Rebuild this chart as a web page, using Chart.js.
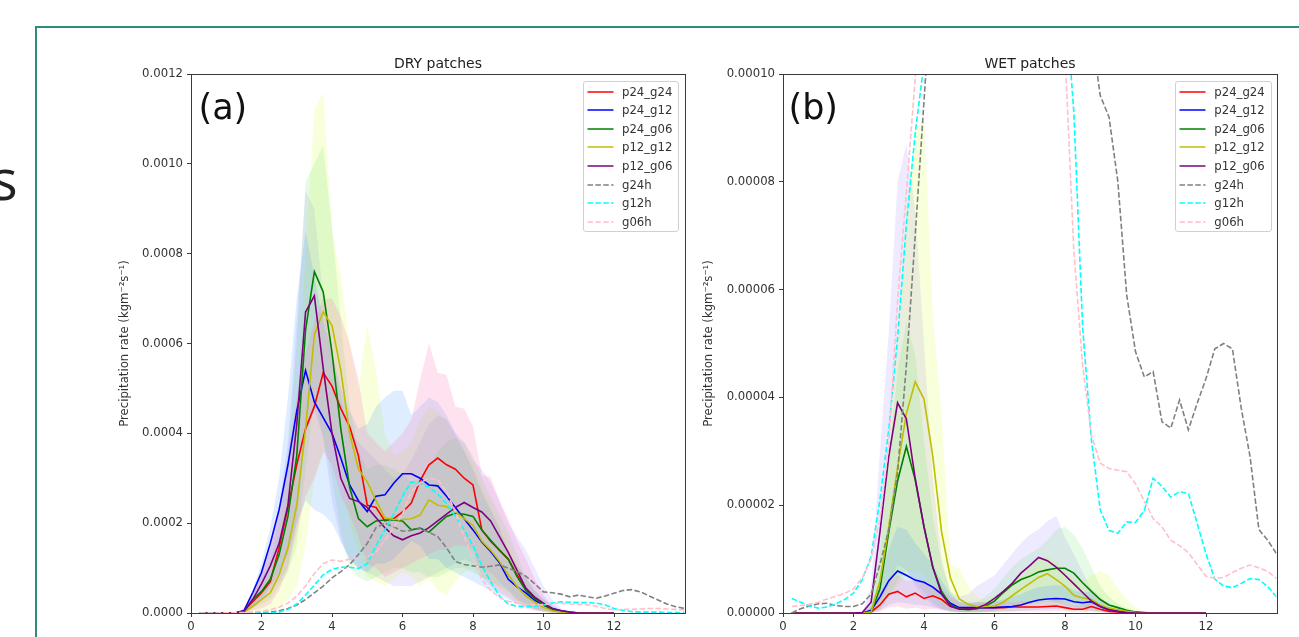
<!DOCTYPE html>
<html><head><meta charset="utf-8">
<script src="https://cdn.jsdelivr.net/npm/chart.js"></script>
<style>
html,body{margin:0;padding:0;background:#fff;}
body{width:1299px;height:637px;overflow:hidden;position:relative;font-family:'DejaVu Sans',sans-serif;}
#frame{position:absolute;left:35px;top:26px;width:1300px;height:700px;border-left:2px solid #2e8c78;border-top:2px solid #2e8c78;}
#bigs{position:absolute;left:-9px;top:150px;font-family:'Open Sans',sans-serif;font-size:56px;line-height:56px;color:#222;}
canvas{position:absolute;}
.title{position:absolute;top:56px;font-size:14px;line-height:14px;color:#222;transform:translateX(-50%);white-space:nowrap;}
.plab{position:absolute;top:90px;font-size:35px;line-height:35px;color:#111;white-space:nowrap;}
.legend{position:absolute;box-sizing:border-box;border:1px solid #d0d0d0;border-radius:3px;background:rgba(255,255,255,0.8);}
.row{position:absolute;left:0;width:100%;height:14px;font-size:11.7px;line-height:14px;color:#333;white-space:nowrap;}
</style>
</head><body>
<div id="frame"></div>
<div id="bigs">s</div>
<canvas id="ca" width="600" height="597" style="left:100px;top:40px;width:600px;height:597px"></canvas>
<canvas id="cb" width="600" height="597" style="left:692px;top:40px;width:600px;height:597px"></canvas>
<div class="title" style="left:438px">DRY patches</div>
<div class="title" style="left:1030px">WET patches</div>
<div class="plab" style="left:198.5px">(a)</div>
<div class="plab" style="left:788.5px">(b)</div>
<script>
// ---------- data ----------
const XS = [0.25,0.5,0.75,1,1.25,1.5,1.75,2,2.25,2.5,2.75,3,3.25,3.5,3.75,4,4.25,4.5,4.75,5,5.25,5.5,5.75,6,6.25,6.5,6.75,7,7.25,7.5,7.75,8,8.25,8.5,8.75,9,9.25,9.5,9.75,10,10.25,10.5,10.75,11,11.25,11.5,11.75,12,12.25,12.5,12.75,13,13.25,13.5,13.75,14];
const SERIES = ['p24_g24','p24_g12','p24_g06','p12_g12','p12_g06','g24h','g12h','g06h'];
const COLORS = ['#ff0000','#0000ff','#008000','#bfbf00','#800080','#808080','#00ffff','#ffc0cb'];
const DASHED = [false,false,false,false,false,true,true,true];
const BAND_COLORS = ['rgba(255,110,180,0.2)','rgba(60,150,255,0.17)','rgba(60,220,60,0.13)','rgba(215,255,40,0.17)','rgba(120,90,255,0.13)'];
const X_TICKS = [0,2,4,6,8,10,12];
const DRY_Y_TICKS = [0,0.0002,0.0004,0.0006,0.0008,0.0010,0.0012];
const WET_Y_TICKS = [0,0.00002,0.00004,0.00006,0.00008,0.00010];
const Y_LABEL = 'Precipitation rate (kgm\u207B\u00B2s\u207B\u00B9)';
const DRY_UNIT = 1e-4; // DRY arrays are in units of 1e-4 kg m-2 s-1
const WET_UNIT = 1e-5; // WET arrays are in units of 1e-5 kg m-2 s-1

// DRY patches, means
const dry_p24_g24 = [0,0,0,0,0, 0.05,0.25,0.45,0.7,1.45,2.35,3.3,4.1,4.6,5.35, 5.05,4.55,4.15,3.5,2.4,2.35,2.05,2.1,2.25,2.45, 2.95,3.3,3.45,3.3,3.2,3.0,2.85,1.85,1.6,1.4, 1.2,0.85,0.55,0.35,0.18,0.08,0.03,0.01,0,0, 0,0,0];
const dry_p24_g12 = [0,0,0,0,0, 0.05,0.45,0.9,1.55,2.3,3.3,4.5,5.4,4.7,4.35, 4.0,3.45,2.85,2.5,2.26,2.6,2.63,2.89,3.1,3.1, 3.0,2.85,2.83,2.6,2.35,2.1,1.85,1.58,1.37,1.12, 0.75,0.58,0.45,0.28,0.18,0.1,0.05,0.02,0,0, 0,0,0];
const dry_p24_g06 = [0,0,0,0,0, 0.03,0.3,0.48,0.75,1.3,2.15,3.5,6.3,7.6,7.15, 5.8,4.1,2.8,2.1,1.92,2.05,2.07,2.07,2.05,1.85, 1.89,1.8,1.98,2.15,2.22,2.2,2.15,1.85,1.62,1.4, 1.2,0.81,0.5,0.32,0.18,0.08,0.03,0.01,0,0, 0,0,0];
const dry_p12_g12 = [0,0,0,0,0, 0.02,0.15,0.3,0.45,0.85,1.45,2.4,4.1,6.2,6.7, 6.4,5.4,4.0,3.2,2.92,2.5,2.12,2.08,2.08,2.1, 2.18,2.52,2.4,2.37,2.25,2.1,1.95,1.6,1.4,1.15, 0.85,0.59,0.38,0.24,0.12,0.05,0.02,0,0,0, 0,0,0];
const dry_p12_g06 = [0,0,0,0,0, 0.03,0.3,0.65,1.05,1.55,2.4,4.2,6.7,7.06,5.45, 4.0,3.0,2.55,2.48,2.35,2.12,1.9,1.72,1.63,1.72, 1.78,1.9,2.05,2.2,2.35,2.46,2.35,2.25,2.05,1.7, 1.35,0.95,0.55,0.35,0.22,0.1,0.05,0.02,0,0, 0,0,0];
const dry_g24h = [0,0,0,0,0.005, 0.005,0.01,0.01,0.02,0.05,0.1,0.18,0.3,0.45,0.6, 0.78,0.92,1.08,1.3,1.55,1.9,2.0,1.92,1.82,1.84, 1.88,1.8,1.7,1.45,1.15,1.08,1.05,1.02,1.04,1.07, 1.0,0.92,0.82,0.65,0.47,0.45,0.42,0.36,0.4,0.36, 0.33,0.38,0.44, 0.5,0.52,0.47,0.38,0.29,0.2,0.14,0.1];
const dry_g12h = [0,0,0,0,0, 0,0,0,0,0.02,0.08,0.2,0.4,0.62,0.85, 0.97,1.02,1.02,0.99,1.1,1.5,1.85,2.2,2.6,2.92, 2.89,2.8,2.65,2.44,2.15,1.85,1.5,1.05,0.7,0.38, 0.2,0.15,0.14,0.15,0.18,0.22,0.25,0.24,0.23,0.23, 0.22,0.18,0.1, 0.06,0.03,0.02,0.02,0.02,0.01,0.01,0.01];
const dry_g06h = [0,0,0,0.005,0.01, 0.01,0.02,0.04,0.07,0.13,0.22,0.38,0.6,0.88,1.1, 1.18,1.15,1.2,1.23,1.25,1.35,1.62,1.9,2.2,2.7, 2.9,3.0,2.97,2.7,2.25,1.7,1.2,0.75,0.5,0.35, 0.26,0.22,0.2,0.18,0.19,0.21,0.22,0.2,0.19,0.18, 0.15,0.1,0.07, 0.08,0.08,0.09,0.1,0.1,0.09,0.08,0.07];
// DRY patches, spread bands (upper / lower)
const dry_p24_g24_hi = [0,0,0,0,0, 0.1,0.5,0.9,1.4,2.3,3.5,4.8,5.8,6.5,7.0, 7.0,6.6,6.0,5.2,4.0,3.8,3.6,3.8,4.0,4.3, 5.2,6.0,5.35,5.3,4.6,4.55,4.15,3.07,3.03,2.5, 2.1,1.6,1.2,0.75,0.4,0.15,0.05,0.02,0,0, 0,0,0];
const dry_p24_g24_lo = [0,0,0,0,0, 0,0.05,0.1,0.2,0.5,1.0,1.8,2.6,3.0,3.6, 3.3,2.6,2.2,1.7,1.1,1.0,0.8,0.9,1.0,1.1, 1.2,1.3,1.4,1.4,1.5,1.5,1.4,0.8,0.6,0.45, 0.35,0.2,0.1,0.05,0.02,0,0,0,0,0, 0,0,0];
const dry_p24_g12_hi = [0,0,0,0,0, 0.1,0.5,1.1,1.9,3.0,4.8,7.0,8.5,7.5,6.5, 5.8,5.0,4.5,4.1,4.2,4.6,4.8,4.95,4.95,4.4, 4.6,4.8,4.7,4.4,4.0,3.6,3.2,2.7,2.3,1.9, 1.35,1.05,0.8,0.5,0.32,0.18,0.08,0.03,0,0, 0,0,0];
const dry_p24_g12_lo = [0,0,0,0,0, 0,0.15,0.3,0.6,0.9,1.3,2.0,2.5,2.3,2.2, 2.0,1.6,1.2,1.0,0.9,1.1,1.1,1.2,1.4,1.6, 1.5,1.2,1.2,1.0,0.9,0.8,0.7,0.6,0.5,0.4, 0.3,0.2,0.15,0.08,0.04,0.02,0,0,0,0, 0,0,0];
const dry_p24_g06_hi = [0,0,0,0,0, 0.05,0.4,0.8,1.2,2.0,3.5,6.0,9.6,10.0,10.4, 8.6,6.5,4.6,3.6,3.2,3.3,3.3,3.2,3.1,2.9, 3.0,3.2,3.6,3.8,3.9,3.8,3.5,3.0,2.6,2.2, 1.8,1.3,0.8,0.5,0.3,0.15,0.05,0,0,0, 0,0,0];
const dry_p24_g06_lo = [0,0,0,0,0, 0,0.1,0.2,0.3,0.6,0.9,1.5,3.2,4.8,3.9, 3.0,1.8,1.0,0.8,0.7,0.8,0.9,1.0,1.0,0.9, 0.9,0.8,0.8,0.9,1.0,1.0,0.9,0.8,0.7,0.6, 0.5,0.3,0.2,0.1,0.05,0,0,0,0,0, 0,0,0];
const dry_p12_g12_hi = [0,0,0,0,0, 0.05,0.3,0.6,0.9,1.6,2.8,4.5,8.0,11.2,11.6, 8.5,7.5,6.0,5.0,6.4,5.4,4.0,3.5,3.6,3.8, 4.3,4.6,4.5,4.3,3.9,3.6,3.3,2.8,2.4,2.0, 1.5,1.1,0.75,0.45,0.25,0.1,0.04,0,0,0, 0,0,0];
const dry_p12_g12_lo = [0,0,0,0,0, 0,0,0.02,0.05,0.1,0.3,0.6,1.5,3.0,3.5, 3.9,3.2,2.0,1.4,0.8,0.7,0.6,0.75,0.9,0.8, 0.6,0.75,0.5,0.4,0.7,0.9,1.0,0.8,0.7,0.55, 0.4,0.25,0.15,0.08,0.03,0,0,0,0,0, 0,0,0];
const dry_p12_g06_hi = [0,0,0,0,0, 0.05,0.5,1.0,1.6,2.4,3.8,6.5,9.4,9.0,7.0, 5.8,4.8,4.0,3.8,3.6,3.4,3.2,3.0,3.1,3.4, 3.8,4.2,4.4,4.3,4.0,3.8,3.4,3.2,2.9,2.5, 2.0,1.7,1.4,1.0,0.6,0.3,0.1,0.03,0,0, 0,0,0];
const dry_p12_g06_lo = [0,0,0,0,0, 0,0.1,0.3,0.5,0.7,1.0,2.0,4.0,4.5,3.9, 2.5,1.6,1.2,1.0,0.9,0.8,0.7,0.6,0.6,0.6, 0.7,0.8,0.9,1.0,1.1,1.2,1.1,1.0,0.9,0.7, 0.5,0.3,0.15,0.08,0.04,0,0,0,0,0, 0,0,0];

// WET patches, means
const wet_p24_g24 = [0,0,0,0,0, 0,0,0,0,0.02,0.15,0.35,0.4,0.3,0.37, 0.27,0.32,0.25,0.12,0.08,0.08,0.1,0.1,0.1,0.1, 0.11,0.11,0.11,0.11,0.12,0.13,0.1,0.07,0.07,0.12, 0.07,0.03,0.02,0.01,0.005,0,0,0,0,0, 0,0,0];
const wet_p24_g12 = [0,0,0,0,0, 0,0,0,0,0.05,0.3,0.6,0.78,0.7,0.61, 0.57,0.48,0.35,0.18,0.1,0.1,0.1,0.1,0.1,0.11, 0.12,0.15,0.2,0.24,0.26,0.27,0.26,0.21,0.19,0.21, 0.12,0.06,0.03,0.01,0,0,0,0,0,0, 0,0,0];
const wet_p24_g06 = [0,0,0,0,0, 0,0,0,0,0.02,0.45,1.5,2.45,3.09,2.47, 1.6,0.85,0.4,0.15,0.08,0.06,0.08,0.13,0.22,0.38, 0.52,0.62,0.68,0.76,0.8,0.83,0.83,0.74,0.56,0.4, 0.25,0.15,0.1,0.05,0.02,0.01,0,0,0,0, 0,0,0];
const wet_p12_g12 = [0,0,0,0,0, 0,0,0,0,0.02,0.6,1.6,2.7,3.7,4.29, 3.97,2.9,1.5,0.65,0.26,0.16,0.12,0.12,0.13,0.2, 0.32,0.44,0.55,0.66,0.73,0.62,0.5,0.33,0.28,0.25, 0.15,0.09,0.06,0.03,0.01,0,0,0,0,0, 0,0,0];
const wet_p12_g06 = [0,0,0,0,0, 0,0,0,0.01,0.2,1.5,2.9,3.9,3.6,2.5, 1.6,0.85,0.35,0.13,0.07,0.07,0.09,0.16,0.27,0.4, 0.55,0.74,0.88,1.03,0.97,0.85,0.7,0.54,0.38,0.22, 0.12,0.06,0.03,0.01,0,0,0,0,0,0, 0,0,0];
const wet_g24h = [0,0.08,0.13,0.17,0.18, 0.14,0.12,0.12,0.17,0.35,0.9,1.55,2.6,4.6,7.0, 9.5,12,15,18,21,23,24,24,23,22, 21,20,19,18,17,16,15,14,12.5,10.8, 9.6,9.2,8.0,5.9,4.85,4.38,4.48,3.55,3.43,3.95, 3.4,3.89,4.35, 4.9,5.0,4.9,3.8,2.9,1.55,1.35,1.1];
const wet_g12h = [0.27,0.2,0.13,0.09,0.11, 0.17,0.25,0.37,0.62,1.05,2.1,3.4,5.1,7.2,8.9, 10.2,13,16,19,22,24,25,25,24,23, 22,21,20,19,17,14,11.5,9.3,5.3,3.2, 1.91,1.53,1.48,1.69,1.68,1.9,2.5,2.35,2.15,2.25, 2.22,1.66,1.1, 0.63,0.5,0.47,0.55,0.64,0.62,0.49,0.3];
const wet_g06h = [0.12,0.14,0.16,0.2,0.26, 0.31,0.36,0.45,0.65,1.0,1.75,3.1,5.8,7.8,9.9, 12,15,18,21,23,24,24,23,22,21, 20,19,18,17,15,12,10.4,6.73,4.6,3.3, 2.78,2.68,2.65,2.62,2.4,2.08,1.75,1.6,1.35,1.25, 1.12,0.9,0.68, 0.64,0.66,0.75,0.83,0.89,0.84,0.77,0.64];
// WET patches, spread bands (upper / lower)
const wet_p24_g24_hi = [0,0,0,0,0, 0,0,0,0,0.1,0.4,0.6,0.7,0.6,0.6, 0.55,0.5,0.45,0.3,0.2,0.18,0.2,0.2,0.2,0.2, 0.2,0.22,0.22,0.22,0.23,0.25,0.2,0.15,0.15,0.2, 0.12,0.06,0.04,0.02,0.01,0,0,0,0,0, 0,0,0];
const wet_p24_g24_lo = [0,0,0,0,0, 0,0,0,0,0,0.02,0.1,0.12,0.08,0.1, 0.06,0.08,0.06,0.03,0.02,0.02,0.03,0.03,0.03,0.03, 0.03,0.03,0.03,0.03,0.03,0.04,0.03,0.02,0.02,0.03, 0.02,0,0,0,0,0,0,0,0,0, 0,0,0];
const wet_p24_g12_hi = [0,0,0,0,0, 0,0,0,0,0.15,0.6,1.2,1.6,1.55,1.3, 1.1,0.9,0.6,0.35,0.22,0.2,0.2,0.2,0.22,0.25, 0.3,0.35,0.42,0.48,0.5,0.52,0.5,0.42,0.38,0.4, 0.25,0.12,0.06,0.02,0,0,0,0,0,0, 0,0,0];
const wet_p24_g12_lo = [0,0,0,0,0, 0,0,0,0,0,0.05,0.15,0.2,0.18,0.15, 0.14,0.1,0.08,0.04,0.02,0.02,0.02,0.02,0.02,0.03, 0.03,0.04,0.05,0.06,0.07,0.07,0.07,0.05,0.05,0.05, 0.03,0.01,0,0,0,0,0,0,0,0, 0,0,0];
const wet_p24_g06_hi = [0,0,0,0,0, 0,0,0,0,0.3,1.2,2.8,4.5,5.4,4.8, 3.2,1.8,0.9,0.4,0.2,0.15,0.2,0.3,0.45,0.65, 0.85,1.0,1.1,1.2,1.35,1.55,1.6,1.45,1.2,0.85, 0.5,0.3,0.18,0.09,0.04,0.01,0,0,0,0, 0,0,0];
const wet_p24_g06_lo = [0,0,0,0,0, 0,0,0,0,0,0.05,0.3,0.6,0.8,0.6, 0.4,0.2,0.08,0.03,0.01,0.01,0.01,0.02,0.04,0.08, 0.12,0.15,0.17,0.19,0.2,0.2,0.2,0.18,0.13,0.09, 0.05,0.03,0.02,0.01,0,0,0,0,0,0, 0,0,0];
const wet_p12_g12_hi = [0,0,0,0,0, 0,0,0,0,0.1,1.0,3.0,5.0,7.5,8.9, 9.2,5.5,3.7,0.9,0.82,0.5,0.3,0.25,0.3,0.4, 0.55,0.7,0.85,1.0,1.05,0.95,0.8,0.65,0.55,0.7, 0.78,0.7,0.45,0.25,0.1,0.03,0,0,0,0, 0,0,0];
const wet_p12_g12_lo = [0,0,0,0,0, 0,0,0,0,0,0.1,0.3,0.5,0.7,0.8, 0.7,0.4,0.15,0.05,0.02,0.01,0.01,0.01,0.01,0.02, 0.04,0.06,0.08,0.1,0.1,0.09,0.07,0.05,0.04,0.03, 0.02,0.01,0,0,0,0,0,0,0,0, 0,0,0];
const wet_p12_g06_hi = [0,0,0,0,0, 0,0,0,0,0.5,3.0,5.2,8.0,8.7,7.5, 5.0,2.5,1.0,0.4,0.3,0.35,0.5,0.6,0.7,0.9, 1.1,1.3,1.45,1.55,1.7,1.8,1.4,1.1,0.75,0.45, 0.3,0.15,0.08,0.03,0,0,0,0,0,0, 0,0,0];
const wet_p12_g06_lo = [0,0,0,0,0, 0,0,0,0,0,0.2,0.5,0.9,0.8,0.5, 0.3,0.15,0.05,0.02,0.01,0.01,0.01,0.02,0.04,0.08, 0.12,0.18,0.22,0.26,0.25,0.2,0.15,0.1,0.07,0.04, 0.02,0.01,0,0,0,0,0,0,0,0, 0,0,0];

// ---------- build ----------
function pts(arr, unit){ return arr.map((v,i)=>({x:XS[i], y:v*unit})); }

function buildDatasets(means, bands, unit){
  const ds = [];
  bands.forEach((b,i)=>{
    ds.push({data:pts(b[0],unit), fill:'+1', backgroundColor:BAND_COLORS[i], borderWidth:0, pointRadius:0, order:100});
    ds.push({data:pts(b[1],unit), fill:false, borderWidth:0, pointRadius:0, order:100});
  });
  means.forEach((m,i)=>{
    ds.push({label:SERIES[i], data:pts(m,unit), borderColor:COLORS[i], borderWidth:1.6,
      borderDash:DASHED[i]?[5.5,2.4]:[], fill:false, pointRadius:0, tension:0, order:50-i});
  });
  return ds;
}

const spines = {id:'spines', afterDatasetsDraw(c){
  const a=c.chartArea, x=c.ctx; x.save(); x.strokeStyle='#3a3a3a'; x.lineWidth=1;
  x.strokeRect(Math.round(a.left)+0.5, Math.round(a.top)+0.5, Math.round(a.right)-Math.round(a.left), Math.round(a.bottom)-Math.round(a.top));
  x.restore();
}};

function makeChart(id, datasets, yTicks, decimals, titlePad){
  const gridOpt = {drawOnChartArea:false, drawTicks:true, tickLength:4, color:'#3a3a3a', lineWidth:1};
  return new Chart(document.getElementById(id), {
    type:'line',
    data:{datasets},
    options:{
      responsive:false, animation:false, devicePixelRatio:1,
      layout:{padding:{left:0, right:15.5, top:34, bottom:0}},
      plugins:{legend:{display:false}, tooltip:{enabled:false}},
      scales:{
        x:{type:'linear', min:0, max:14,
          afterBuildTicks:ax=>{ ax.ticks = X_TICKS.map(v=>({value:v})); },
          afterFit:ax=>{ ax.height = 24; },
          grid:gridOpt, border:{display:false},
          ticks:{color:'#333', font:{family:'DejaVu Sans', size:11.7}, padding:3, maxRotation:0, autoSkip:false, callback:v=>String(v)}},
        y:{type:'linear', min:0, max:yTicks[yTicks.length-1],
          afterBuildTicks:ax=>{ ax.ticks = yTicks.map(v=>({value:v})); },
          afterFit:ax=>{ ax.width = 91; },
          grid:gridOpt, border:{display:false},
          ticks:{color:'#333', font:{family:'DejaVu Sans', size:11.7}, padding:4, callback:v=>Number(v).toFixed(decimals)},
          title:{display:true, text:Y_LABEL, color:'#333', font:{family:'DejaVu Sans', size:11.7}, padding:{top:titlePad, bottom:0}}}
      }
    },
    plugins:[spines]
  });
}

makeChart('ca', buildDatasets(
  [dry_p24_g24,dry_p24_g12,dry_p24_g06,dry_p12_g12,dry_p12_g06,dry_g24h,dry_g12h,dry_g06h],
  [[dry_p24_g24_hi,dry_p24_g24_lo],[dry_p24_g12_hi,dry_p24_g12_lo],[dry_p24_g06_hi,dry_p24_g06_lo],[dry_p12_g12_hi,dry_p12_g12_lo],[dry_p12_g06_hi,dry_p12_g06_lo]],
  DRY_UNIT), DRY_Y_TICKS, 4, 18);

makeChart('cb', buildDatasets(
  [wet_p24_g24,wet_p24_g12,wet_p24_g06,wet_p12_g12,wet_p12_g06,wet_g24h,wet_g12h,wet_g06h],
  [[wet_p24_g24_hi,wet_p24_g24_lo],[wet_p24_g12_hi,wet_p24_g12_lo],[wet_p24_g06_hi,wet_p24_g06_lo],[wet_p12_g12_hi,wet_p12_g12_lo],[wet_p12_g06_hi,wet_p12_g06_lo]],
  WET_UNIT), WET_Y_TICKS, 5, 10);

function buildLegend(left){
  const box = document.createElement('div'); box.className='legend';
  box.style.left=left+'px'; box.style.top='80.7px'; box.style.width='96.6px'; box.style.height='151px';
  SERIES.forEach((name,i)=>{
    const row = document.createElement('div'); row.className='row';
    row.style.top=(10+18.57*i-7)+'px';
    row.innerHTML = '<svg width="28" height="14" style="position:absolute;left:3px;top:0"><line x1="0.5" y1="7" x2="26.5" y2="7" stroke="'+COLORS[i]+'" stroke-width="1.5"'+(DASHED[i]?' stroke-dasharray="5.5 2.4"':'')+'/></svg><span style="position:absolute;left:38.3px;top:0">'+name+'</span>';
    box.appendChild(row);
  });
  document.body.appendChild(box);
}
buildLegend(582.7);
buildLegend(1175);
</script>
</body></html>
